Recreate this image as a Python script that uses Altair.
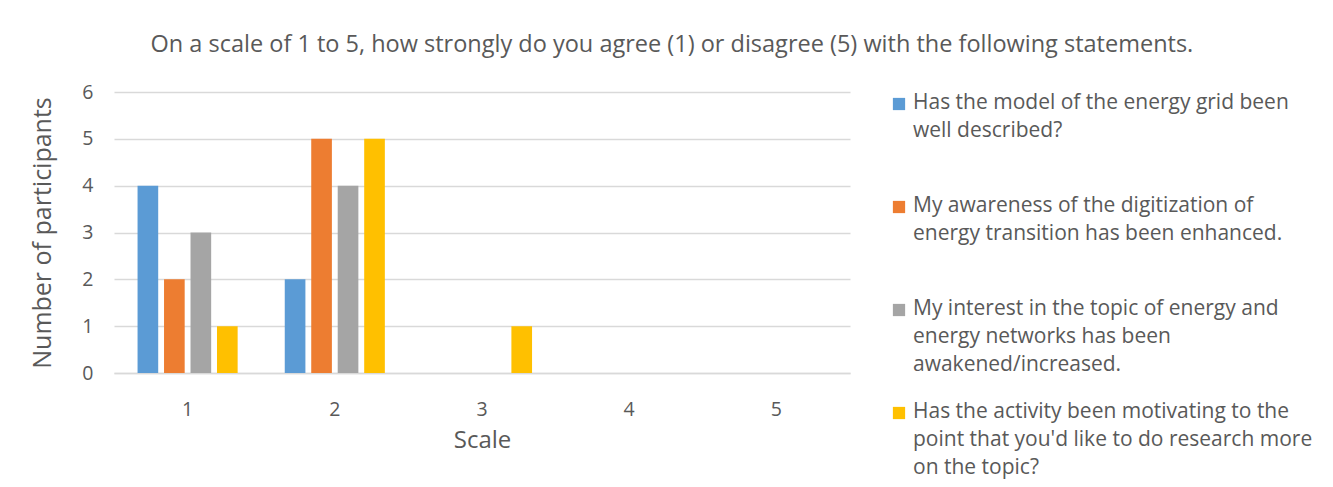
import altair as alt
import pandas as pd

# Survey answers: number of participants choosing each point of the 1-5 scale
scale_points = [1, 2, 3, 4, 5]
series = [
    "Has the model of the energy grid been well described?",
    "My awareness of the digitization of energy transition has been enhanced.",
    "My interest in the topic of energy and energy networks has been awakened/increased.",
    "Has the activity been motivating to the point that you'd like to do research more on the topic?",
]
series_lines = [
    "Has the model of the energy grid been\nwell described?",
    "My awareness of the digitization of\nenergy transition has been enhanced.",
    "My interest in the topic of energy and\nenergy networks has been\nawakened/increased.",
    "Has the activity been motivating to the\npoint that you'd like to do research more\non the topic?",
]
model_described = [4, 2, 0, 0, 0]
awareness_enhanced = [2, 5, 0, 0, 0]
interest_increased = [3, 4, 0, 0, 0]
motivating_research = [1, 5, 1, 0, 0]
colors = ["#5B9BD5", "#ED7D31", "#A5A5A5", "#FFC000"]

FONT = "Open Sans"
TEXT = "#595959"
GRID = "#D9D9D9"

rows = []
for name, vals in zip(series, [model_described, awareness_enhanced,
                               interest_increased, motivating_research]):
    for s, v in zip(scale_points, vals):
        rows.append({"Scale": s, "series": name, "count": v})
df = pd.DataFrame(rows)

legend_df = pd.DataFrame({"series": series, "label": series_lines})

color_scale = alt.Scale(domain=series, range=colors)

bars = alt.Chart(df).mark_bar().encode(
    x=alt.X("Scale:O",
            scale=alt.Scale(paddingInner=0.32, paddingOuter=0.16),
            axis=alt.Axis(title="Scale", labelAngle=0, ticks=False,
                          domainColor=GRID, domainWidth=1.3,
                          labelPadding=27, titlePadding=10,
                          labelFontSize=19.5, titleFontSize=24)),
    xOffset=alt.XOffset("series:N", sort=series,
                        scale=alt.Scale(paddingInner=0.22)),
    y=alt.Y("count:Q",
            scale=alt.Scale(domain=[0, 6]),
            axis=alt.Axis(title="Number of participants", values=[0, 1, 2, 3, 4, 5, 6],
                          domain=False, ticks=False, gridColor=GRID, gridWidth=1.3,
                          labelPadding=21, titlePadding=26,
                          labelFontSize=19.5, titleFontSize=25)),
    color=alt.Color("series:N", scale=color_scale, legend=None),
).properties(width=736, height=281)

# Hand-built legend: one swatch and one wrapped label per statement
legend_y = alt.Y("series:N", sort=series,
                 scale=alt.Scale(type="point", padding=0), axis=None)

legend_swatches = alt.Chart(legend_df).mark_point(
    shape="square", filled=True, size=150, opacity=1, yOffset=12
).encode(
    x=alt.value(6),
    y=legend_y,
    color=alt.Color("series:N", scale=color_scale, legend=None),
)

legend_text = alt.Chart(legend_df).mark_text(
    align="left", baseline="top", lineBreak="\n", lineHeight=28,
    font=FONT, fontSize=21, color=TEXT, dy=0
).encode(
    x=alt.value(20),
    y=legend_y,
    text="label:N",
)

legend_panel = (legend_swatches + legend_text).properties(width=420, height=309)

chart = alt.hconcat(bars, legend_panel, spacing=42).properties(
    title=alt.TitleParams(
        "On a scale of 1 to 5, how strongly do you agree (1) or disagree (5) with the following statements.",
        fontSize=23.5, font=FONT, color=TEXT, fontWeight="normal", anchor="middle",
        offset=26,
    ),
    padding={"left": 30, "top": 32, "right": 5, "bottom": 5},
).configure_view(strokeOpacity=0).configure_axis(
    labelFont=FONT, titleFont=FONT, labelColor=TEXT, titleColor=TEXT,
    titleFontWeight="normal",
)

chart.save("out.html", embed_options={"renderer": "svg", "actions": False})
